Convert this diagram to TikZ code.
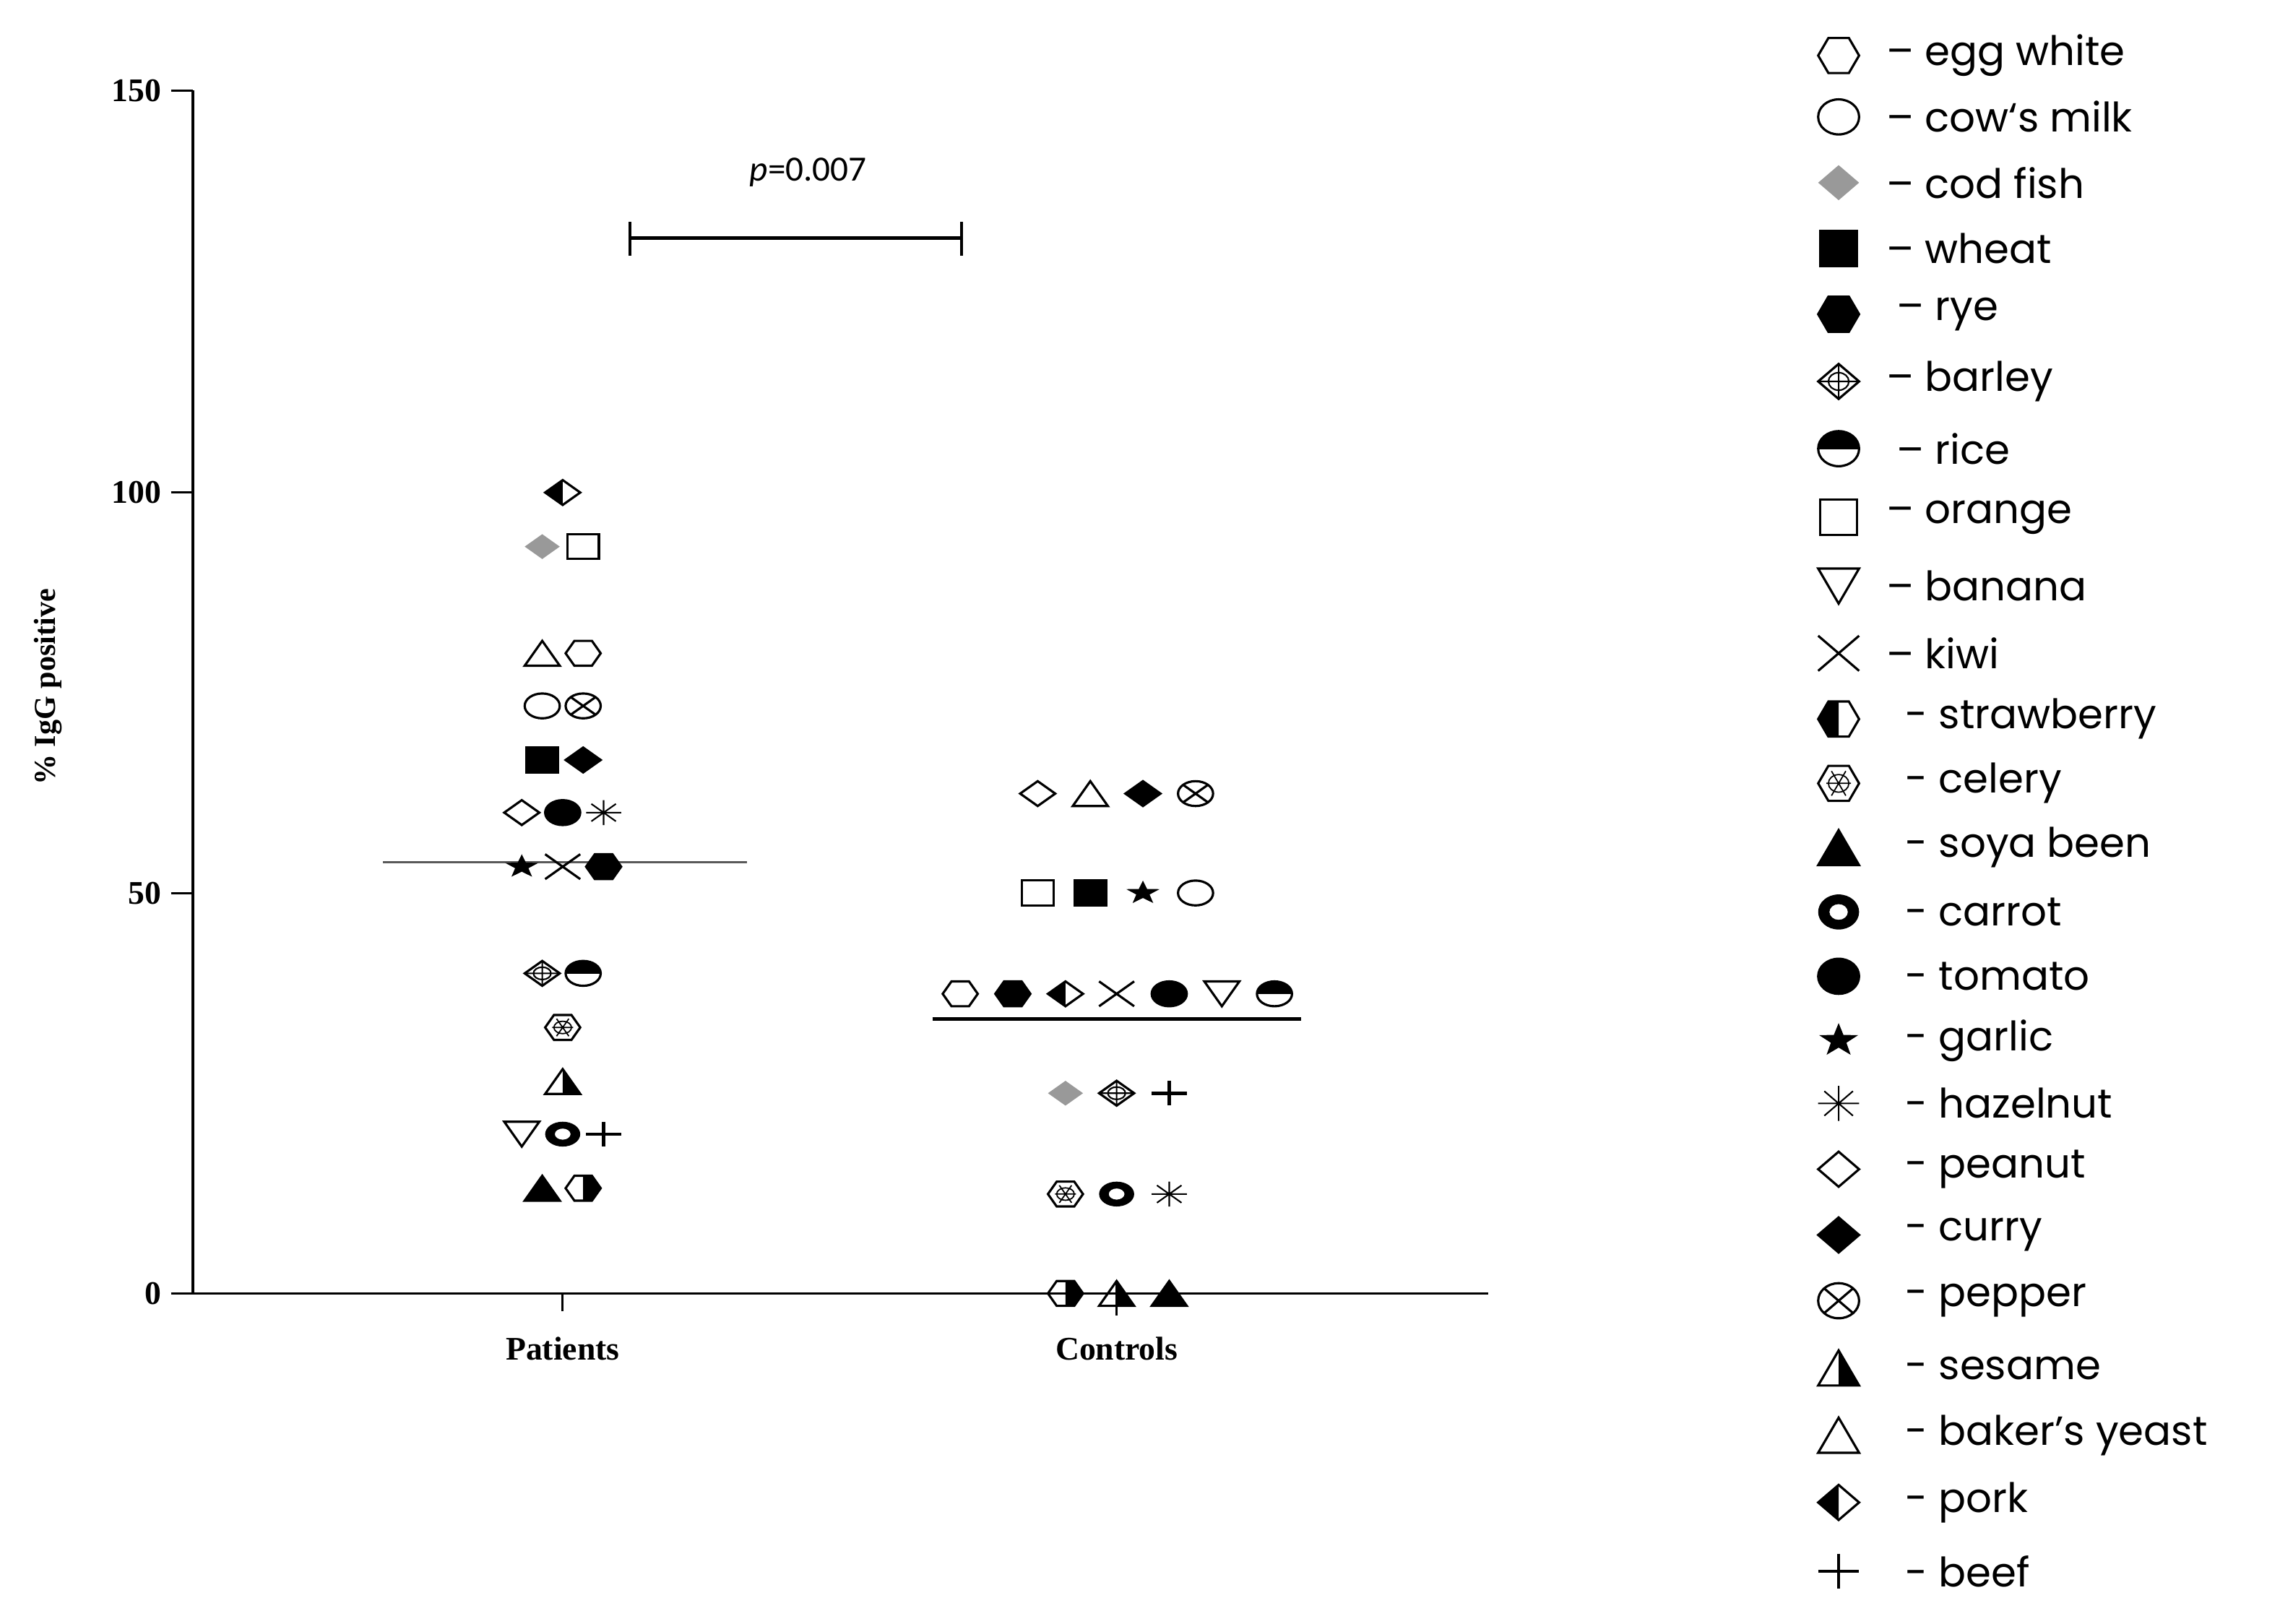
\documentclass[tikz,border=0pt]{standalone}
\usepackage{fontspec}
\setmainfont{Liberation Serif}
\newfontfamily\calib{Carlito}
\newfontfamily\legf{Poppins}
\begin{document}
\begin{tikzpicture}[x=0.02023cm,y=-0.02023cm,line width=0.9pt,
  pm/.style={xscale=12,yscale=8.5},
  lm/.style={xscale=14,yscale=12},
  lt/.style={anchor=west,font=\legf\fontsize{16}{18}\selectfont,inner sep=0pt},
  hexo/.pic={\draw (-1,0)--(-.5,-1)--(.5,-1)--(1,0)--(.5,1)--(-.5,1)--cycle;},
  hexf/.pic={\filldraw (-1,0)--(-.5,-1)--(.5,-1)--(1,0)--(.5,1)--(-.5,1)--cycle;},
  hexR/.pic={\begin{scope}\clip (0,-1.2) rectangle (1.2,1.2);\fill (-1,0)--(-.5,-1)--(.5,-1)--(1,0)--(.5,1)--(-.5,1)--cycle;\end{scope}
             \draw (-1,0)--(-.5,-1)--(.5,-1)--(1,0)--(.5,1)--(-.5,1)--cycle;},
  hexL/.pic={\begin{scope}\clip (0,-1.2) rectangle (-1.2,1.2);\fill (-1,0)--(-.5,-1)--(.5,-1)--(1,0)--(.5,1)--(-.5,1)--cycle;\end{scope}
             \draw (-1,0)--(-.5,-1)--(.5,-1)--(1,0)--(.5,1)--(-.5,1)--cycle;},
  cel/.pic={\draw (-1,0)--(-.5,-1)--(.5,-1)--(1,0)--(.5,1)--(-.5,1)--cycle;
            \draw[line width=0.5pt] (-.6,0)--(.6,0) (-.35,-.7)--(.35,.7) (.35,-.7)--(-.35,.7);
            \draw[line width=0.5pt] (0,0) ellipse (.5 and .5);},
  circo/.pic={\draw (0,0) ellipse (1 and 1);},
  circf/.pic={\filldraw (0,0) ellipse (1 and 1);},
  ring/.pic={\fill[even odd rule] (0,0) ellipse (1 and 1) (0,0) ellipse (.45 and .45);},
  cx/.pic={\draw (0,0) ellipse (1 and 1); \draw (-.7,-.7)--(.7,.7) (-.7,.7)--(.7,-.7);},
  rice/.pic={\begin{scope}\clip (-1.2,-1.2) rectangle (1.2,0);\fill (0,0) ellipse (1 and 1);\end{scope}
             \draw (0,0) ellipse (1 and 1);},
  dio/.pic={\draw (-1,0)--(0,-1)--(1,0)--(0,1)--cycle;},
  dif/.pic={\filldraw (-1,0)--(0,-1)--(1,0)--(0,1)--cycle;},
  dig/.pic={\fill[gray!80] (-1,0)--(0,-1)--(1,0)--(0,1)--cycle;},
  dicr/.pic={\draw (-1,0)--(0,-1)--(1,0)--(0,1)--cycle; \draw[line width=0.6pt] (-1,0)--(1,0) (0,-1)--(0,1) (0,0) ellipse (.5 and .5);},
  pork/.pic={\begin{scope}\clip (0,-1.2) rectangle (-1.2,1.2);\fill (-1,0)--(0,-1)--(1,0)--(0,1)--cycle;\end{scope}
             \draw (-1,0)--(0,-1)--(1,0)--(0,1)--cycle;},
  sqo/.pic={\draw (-.9,-1) rectangle (.9,1);},
  sqf/.pic={\filldraw (-.9,-1) rectangle (.9,1);},
  tro/.pic={\draw (-1,1)--(0,-1)--(1,1)--cycle;},
  trf/.pic={\filldraw (-1,1)--(0,-1)--(1,1)--cycle;},
  trd/.pic={\draw (-1,-1)--(1,-1)--(0,1)--cycle;},
  ses/.pic={\begin{scope}\clip (0,-1.2) rectangle (1.2,1.2);\fill (-1,1)--(0,-1)--(1,1)--cycle;\end{scope}
            \draw (-1,1)--(0,-1)--(1,1)--cycle;},
  kx/.pic={\draw (-1,-1)--(1,1) (-1,1)--(1,-1);},
  pl/.pic={\draw[line width=1.3pt] (-1,0)--(1,0) (0,-1)--(0,1);},
  st/.pic={\fill (-90:1)--(-54:.4)--(-18:1)--(18:.4)--(54:1)--(90:.4)--(126:1)--(162:.4)--(198:1)--(234:.4)--cycle;},
  ast/.pic={\draw[line width=0.6pt] (-1,0)--(1,0) (0,-1)--(0,1) (-.7,-.7)--(.7,.7) (-.7,.7)--(.7,-.7);}
]
\useasboundingbox (0,0) rectangle (1560,1111);
% axes
\draw (132,62)--(132,885)--(1018,885);
\foreach \v/\y in {150/62,100/337,50/611,0/885}{
  \draw (117,\y)--(132,\y);
  \node[anchor=east,font=\bfseries\fontsize{13}{15}\selectfont,inner sep=0pt] at (111,\y) {\v};}
\draw (385,885)--(385,897); \draw (764,885)--(764,897);
\node[font=\bfseries\fontsize{13}{15}\selectfont] at (385,923) {Patients};
\node[font=\bfseries\fontsize{13}{15}\selectfont] at (764,923) {Controls};
\node[rotate=90,font=\bfseries\fontsize{12}{14}\selectfont] at (33,470) {\% IgG positive};
% p bracket
\draw[line width=1.3pt] (431,163)--(658,163) (431,152)--(431,175) (658,152)--(658,175);
\node[font=\calib\fontsize{14}{16}\selectfont] at (553,118) {\textit{p}=0.007};
% medians
\draw[gray!70!black,line width=1pt] (262,590)--(511,590);
\draw[line width=1.4pt] (638,697)--(890,697);
% patients
\foreach \s/\x/\y in {pork/385/337, dig/371/374, sqo/399/374, tro/371/447, hexo/399/447,
  circo/371/483, cx/399/483, sqf/371/520, dif/399/520, dio/357/556, circf/385/556, ast/413/556,
  st/357/593, kx/385/593, hexf/413/593, dicr/371/666, rice/399/666, cel/385/703, ses/385/740,
  trd/357/776, ring/385/776, pl/413/776, trf/371/813, hexR/399/813}
  \pic[pm] at (\x,\y) {\s};
% controls
\foreach \s/\x/\y in {dio/710/543, tro/746/543, dif/782/543, cx/818/543,
  sqo/710/611, sqf/746/611, st/782/611, circo/818/611,
  hexo/657/680, hexf/693/680, pork/729/680, kx/764/680, circf/800/680, trd/836/680, rice/872/680,
  dig/729/748, dicr/764/748, pl/800/748, cel/729/817, ring/764/817, ast/800/817,
  hexR/729/885, ses/764/885, trf/800/885}
  \pic[pm] at (\x,\y) {\s};
\draw (764,878)--(764,900);
% legend
\foreach \s/\y/\t/\d in {hexo/38/egg white/1290, circo/80/cow‘s milk/1290, dig/125/cod fish/1290,
  sqf/170/wheat/1290, hexf/215/rye/1297, dicr/261/barley/1290, rice/307/rice/1297, sqo/354/orange/1290,
  trd/401/banana/1290, kx/447/kiwi/1290, hexL/492/strawberry/1303, cel/536/celery/1303,
  trf/580/soya been/1303, ring/624/carrot/1303, circf/668/tomato/1303, st/712/garlic/1303,
  ast/755/hazelnut/1303, dio/800/peanut/1303, dif/845/curry/1303, cx/890/pepper/1303,
  ses/936/sesame/1303, tro/982/baker’s yeast/1303, pork/1028/pork/1303, pl/1075/beef/1303}
{
  \pic[lm] at (1258,\y) {\s};
  \node[lt] at (\d,\y) {\ifnum\d<1300 –\else -\fi\ \t};
}
\end{tikzpicture}
\end{document}
